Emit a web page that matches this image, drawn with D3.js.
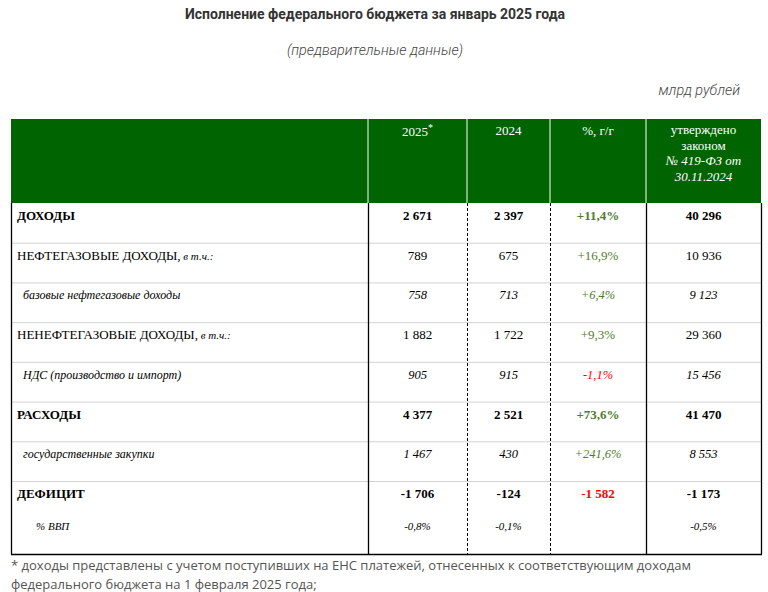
<!DOCTYPE html>
<html>
<head>
<meta charset="utf-8">
<script src="https://cdn.jsdelivr.net/npm/d3@7"></script>
<style>
  body { margin: 0; background: #fff; }
  svg { display: block; }
  .serif { font-family: "Liberation Serif", "Times New Roman", serif; }
</style>
</head>
<body>
<svg id="chart" width="768" height="592"></svg>
<script>
// table content
const title = "Исполнение федерального бюджета за январь 2025 года";
const subtitle = "(предварительные данные)";
const units = "млрд рублей";
const headers = ["2025", "2024", "%, г/г", ["утверждено", "законом", "№ 419-ФЗ от", "30.11.2024"]];
const labels = ["ДОХОДЫ", "НЕФТЕГАЗОВЫЕ ДОХОДЫ,", "базовые нефтегазовые доходы",
  "НЕНЕФТЕГАЗОВЫЕ ДОХОДЫ,", "НДС (производство и импорт)", "РАСХОДЫ",
  "государственные закупки", "ДЕФИЦИТ", "% ВВП"];
const rowKinds = ["total", "group", "sub", "group", "sub", "total", "sub", "total", "note"];
const values2025 = [2671, 789, 758, 1882, 905, 4377, 1467, -1706, -0.8];
const values2024 = [2397, 675, 713, 1722, 915, 2521, 430, -124, -0.1];
const changePct = [11.4, 16.9, 6.4, 9.3, -1.1, 73.6, 241.6, null, null];
const deficitChange = -1582;
const approved = [40296, 10936, 9123, 29360, 15456, 41470, 8553, -1173, -0.5];
const footnote = [
  "* доходы представлены с учетом поступивших на ЕНС платежей, отнесенных к соответствующим доходам",
  "федерального бюджета на 1 февраля 2025 года;"
];

const ru = d3.formatLocale({ decimal: ",", thousands: "\u00a0", grouping: [3], currency: ["", ""], minus: "-" });
const fmtNum = ru.format(",d");
const fmtPct = v => ru.format("+.1f")(v) + "%";
const fmtShare = v => ru.format(".1f")(v) + "%";

const svg = d3.select("#chart");
const green = "#006400";
const pctGreen = "#4f7d2e";

svg.append("text").attr("x", 375).attr("y", 19).attr("text-anchor", "middle")
  .style("font-family", "Roboto, sans-serif").style("font-weight", "bold")
  .style("font-size", "14px").attr("fill", "#333").text(title);
svg.append("text").attr("x", 375).attr("y", 55).attr("text-anchor", "middle")
  .style("font-family", "Roboto, sans-serif").style("font-style", "italic").style("font-weight", 300)
  .style("font-size", "14.3px").attr("fill", "#444").text(subtitle);
svg.append("text").attr("x", 740).attr("y", 95).attr("text-anchor", "end")
  .style("font-family", "Roboto, sans-serif").style("font-style", "italic").style("font-weight", 300)
  .style("font-size", "14.3px").attr("fill", "#444").text(units);

// geometry
const colKeys = ["label", "c2025", "c2024", "pct", "law"];
const edges = [11, 368, 467, 550, 646, 761];
const colLeft = d3.scaleOrdinal().domain(colKeys).range(edges.slice(0, 5));
const colRight = d3.scaleOrdinal().domain(colKeys).range(edges.slice(1));
const colMid = k => (colLeft(k) + colRight(k)) / 2;

const headTop = 119, bodyTop = 203, bottom = 554;
const y = d3.scaleLinear().domain([0, 7]).range([bodyTop, 481]);
const rowTop = i => i < 8 ? y(i) : y(7) + 33;

// header
svg.append("rect").attr("x", edges[0]).attr("y", headTop)
  .attr("width", edges[5] - edges[0]).attr("height", bodyTop - headTop).attr("fill", green);
edges.slice(1, 5).forEach(e => {
  svg.append("line").attr("x1", e).attr("x2", e).attr("y1", headTop).attr("y2", bodyTop)
    .attr("stroke", "#fff").attr("stroke-width", 1);
});

const head = svg.append("g").attr("class", "serif").attr("fill", "#fff")
  .style("font-size", "13px").attr("text-anchor", "middle");
const h1 = head.append("text").attr("x", colMid("c2025")).attr("y", 136);
h1.append("tspan").text(headers[0]);
h1.append("tspan").attr("dy", -5).style("font-size", "10px").text("*");
head.append("text").attr("x", colMid("c2024")).attr("y", 135).text(headers[1]);
head.append("text").attr("x", colMid("pct")).attr("y", 135).text(headers[2]);
headers[3].forEach((t, i) => {
  head.append("text").attr("x", colMid("law")).attr("y", 134 + i * 15.5)
    .style("font-style", i >= 2 ? "italic" : null).text(t);
});

// body grid
const grid = svg.append("g");
d3.range(1, 8).forEach(i => {
  grid.append("line").attr("x1", edges[0]).attr("x2", edges[5])
    .attr("y1", y(i) + 0.5).attr("y2", y(i) + 0.5).attr("stroke", "#d3d3d3");
});
[["label", "l", false], ["c2025", "l", false], ["c2024", "l", true], ["pct", "l", true], ["law", "l", false], ["law", "r", false]]
  .forEach(([k, side, dashed]) => {
    const xx = (side === "l" ? colLeft(k) : colRight(k)) + 0.5;
    grid.append("line").attr("x1", xx).attr("x2", xx).attr("y1", bodyTop).attr("y2", bottom)
      .attr("stroke", "#000").attr("stroke-width", dashed ? 1 : 1.3)
      .attr("stroke-dasharray", dashed ? "3,2" : null);
  });
grid.append("line").attr("x1", edges[0]).attr("x2", edges[5] + 1)
  .attr("y1", bottom + 0.5).attr("y2", bottom + 0.5).attr("stroke", "#000").attr("stroke-width", 1.3);

// body text
const body = svg.append("g").attr("class", "serif").attr("fill", "#000");
const baseline = i => rowTop(i) + (i === 8 ? 16 : 17);

labels.forEach((lab, i) => {
  const kind = rowKinds[i];
  const indent = kind === "sub" ? 23 : kind === "note" ? 36 : 17;
  const t = body.append("text").attr("x", indent).attr("y", baseline(i))
    .style("font-size", kind === "sub" ? "12px" : kind === "note" ? "11px" : "13px")
    .style("font-weight", kind === "total" ? "bold" : null)
    .style("font-style", kind === "sub" || kind === "note" ? "italic" : null)
    .text(lab);
  if (kind === "group") {
    t.append("tspan").style("font-style", "italic").style("font-size", "11px").text(" в т.ч.:");
  }
});

function cell(i, key, text, color) {
  const kind = rowKinds[i];
  body.append("text").attr("x", colMid(key)).attr("y", baseline(i)).attr("text-anchor", "middle")
    .style("font-size", kind === "note" ? "11px" : kind === "sub" ? "12.5px" : "13px")
    .style("font-weight", kind === "total" ? "bold" : null)
    .style("font-style", kind === "sub" || kind === "note" ? "italic" : null)
    .attr("fill", color || "#000").text(text);
}

labels.forEach((_, i) => {
  const f = rowKinds[i] === "note" ? fmtShare : fmtNum;
  cell(i, "c2025", f(values2025[i]));
  cell(i, "c2024", f(values2024[i]));
  cell(i, "law", f(approved[i]));
  if (changePct[i] != null) {
    cell(i, "pct", fmtPct(changePct[i]), changePct[i] < 0 ? "#ff0000" : pctGreen);
  }
});
cell(7, "pct", fmtNum(deficitChange), "#ff0000");

// footnote
footnote.forEach((line, i) => {
  svg.append("text").attr("x", 11).attr("y", 570 + i * 19)
    .style("font-family", "'Open Sans', sans-serif").style("font-size", "13px")
    .attr("fill", "#555").text(line);
});
</script>
</body>
</html>
